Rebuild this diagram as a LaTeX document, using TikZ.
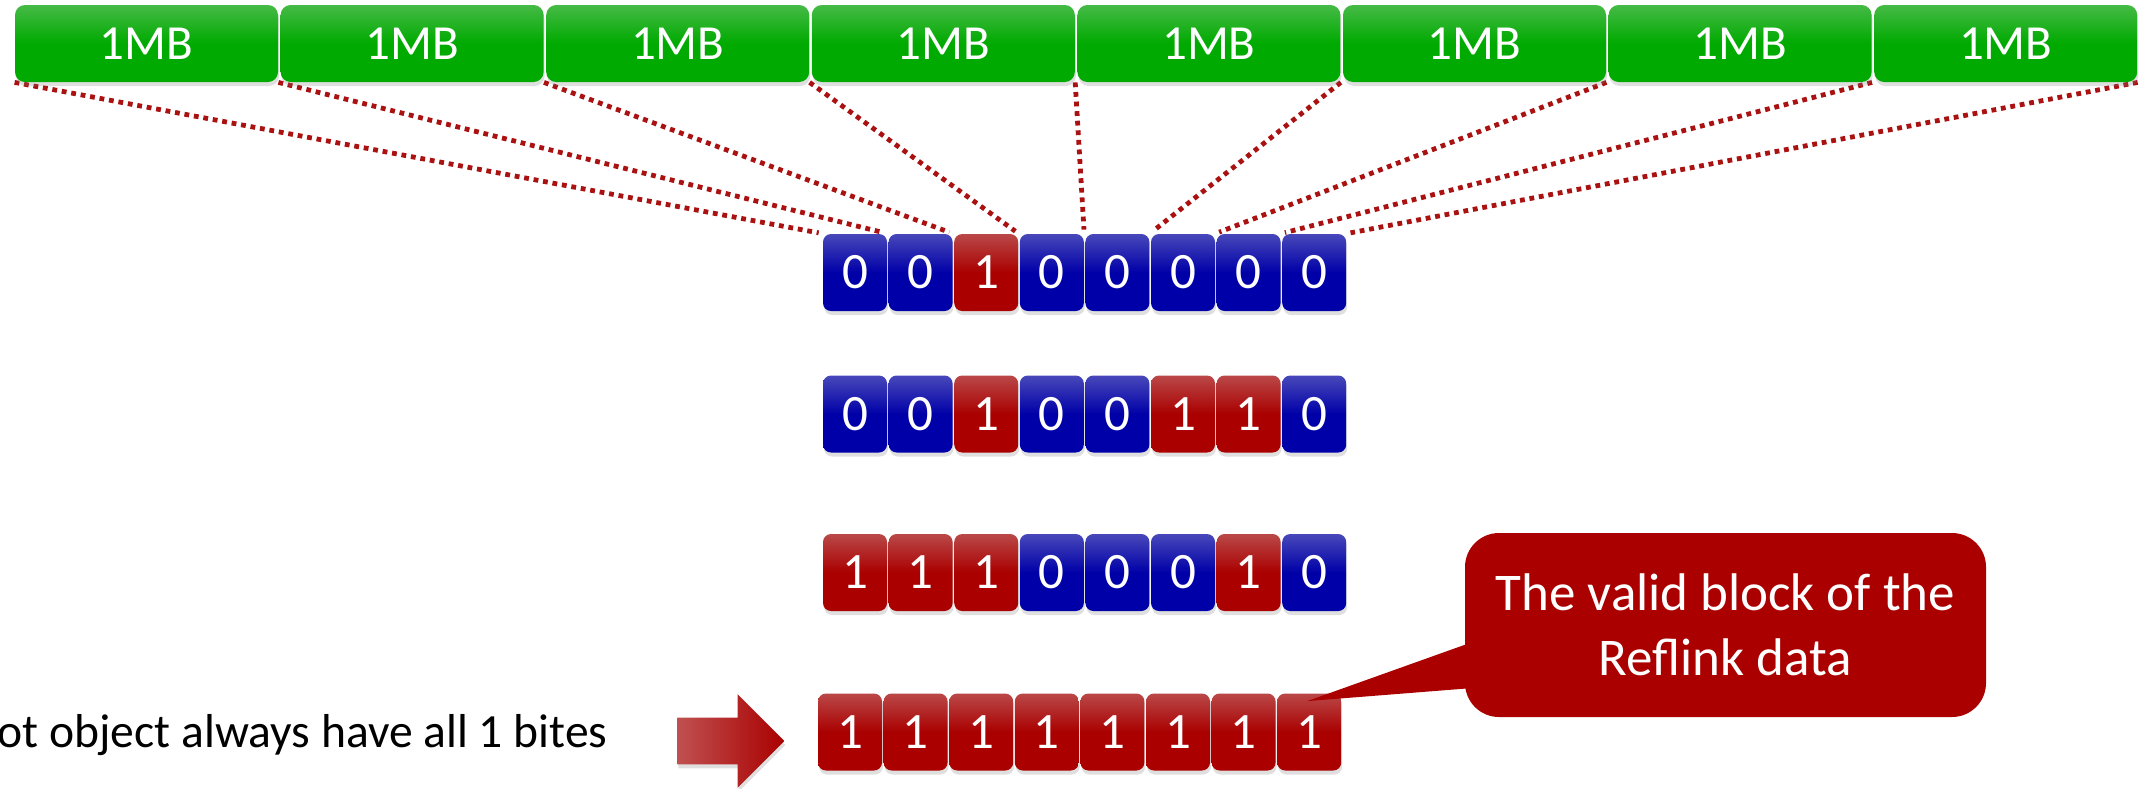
\documentclass[tikz,border=0pt]{standalone}
\usepackage{fontspec}
\setmainfont{Carlito}
\usetikzlibrary{shapes,arrows,positioning,shadows,backgrounds,calc}
\usepackage{xcolor}
\definecolor{mbgreen}{RGB}{0,170,0}
\definecolor{mbtop}{RGB}{70,186,70}
\definecolor{bitblue}{RGB}{0,0,168}
\definecolor{bluetop}{RGB}{72,72,186}
\definecolor{bitred}{RGB}{170,0,0}
\definecolor{redtop}{RGB}{186,72,72}
\definecolor{arrowlight}{RGB}{192,80,80}
\definecolor{linkred}{RGB}{170,17,17}

\begin{document}
\begin{tikzpicture}[x=0.5pt, y=-0.5pt]
      \tikzstyle{mb} = [rectangle, rounded corners=5pt, text=white, minimum width=131.5pt, minimum height=38.5pt, top color=mbtop, bottom color=mbgreen, middle color=mbgreen, font=\fontsize{24.5}{29}\selectfont, drop shadow={shadow xshift=0.5pt, shadow yshift=-2pt, opacity=0.25}]
      \tikzstyle{bit} = [rectangle, rounded corners=4pt, text=white, minimum width=32pt, minimum height=38.5pt, inner sep=0pt, font=\fontsize{25.5}{30}\selectfont, drop shadow={shadow xshift=0.5pt, shadow yshift=-2pt, opacity=0.25}]
      \tikzstyle{bit0} = [bit, top color=bluetop, bottom color=bitblue, middle color=bitblue]
      \tikzstyle{bit1} = [bit, top color=redtop, bottom color=bitred, middle color=bitred]
      \tikzstyle{link} = [linkred, line width=2.4pt, dash pattern=on 2.4pt off 2.4pt, shorten >=2pt]

      \useasboundingbox (0,0) rectangle (2139,788);

      % 1MB blocks
      \foreach \i in {1,...,8}
        \node[mb] (g\i) at ({146.5+(\i-1)*265.6}, 43.5) {1MB};

      % bitmaps
      \foreach \r/\x/\y/\bits in {a/823/272.5/{0,0,1,0,0,0,0,0}, b/823/414/{0,0,1,0,0,1,1,0}, c/823/572.5/{1,1,1,0,0,0,1,0}, d/818/732/{1,1,1,1,1,1,1,1}}
        \foreach \v [count=\i] in \bits
          \node[bit\v] (\r\i) at ({\x+32+(\i-1)*65.6}, \y) {\v};

      % block -> bit links
      \begin{scope}[on background layer]
        \draw[link] (g1.south west) -- (a1.north west);
        \foreach \i in {1,...,8}
          \draw[link] (g\i.south east) -- (a\i.north east);
      \end{scope}

      \node[anchor=base east, inner sep=0pt, font=\fontsize{23.8}{28}\selectfont] (snap) at (608,747) {ot object always have all 1 bites};
      \node[single arrow, single arrow head extend=11.75pt, minimum height=53.5pt, inner sep=11.5pt, left color=arrowlight, right color=bitred, anchor=tip, drop shadow={shadow xshift=0.5pt, shadow yshift=-2pt, opacity=0.25}] (arr) at (785,741) {};

      % callout
      \node[rectangle, rounded corners=17pt, fill=bitred, text=white, minimum width=260.5pt, minimum height=92pt, align=center, font=\fontsize{26.5}{32.5}\selectfont] (valid) at (1725.5,625) {The valid block of the\\Reflink data};
      \fill[bitred] ($(valid.west)+(8,17)$) -- ($(d8.north)+(-2,8)$) -- ($(valid.west)+(8,63)$) -- cycle;
\end{tikzpicture}
\end{document}
